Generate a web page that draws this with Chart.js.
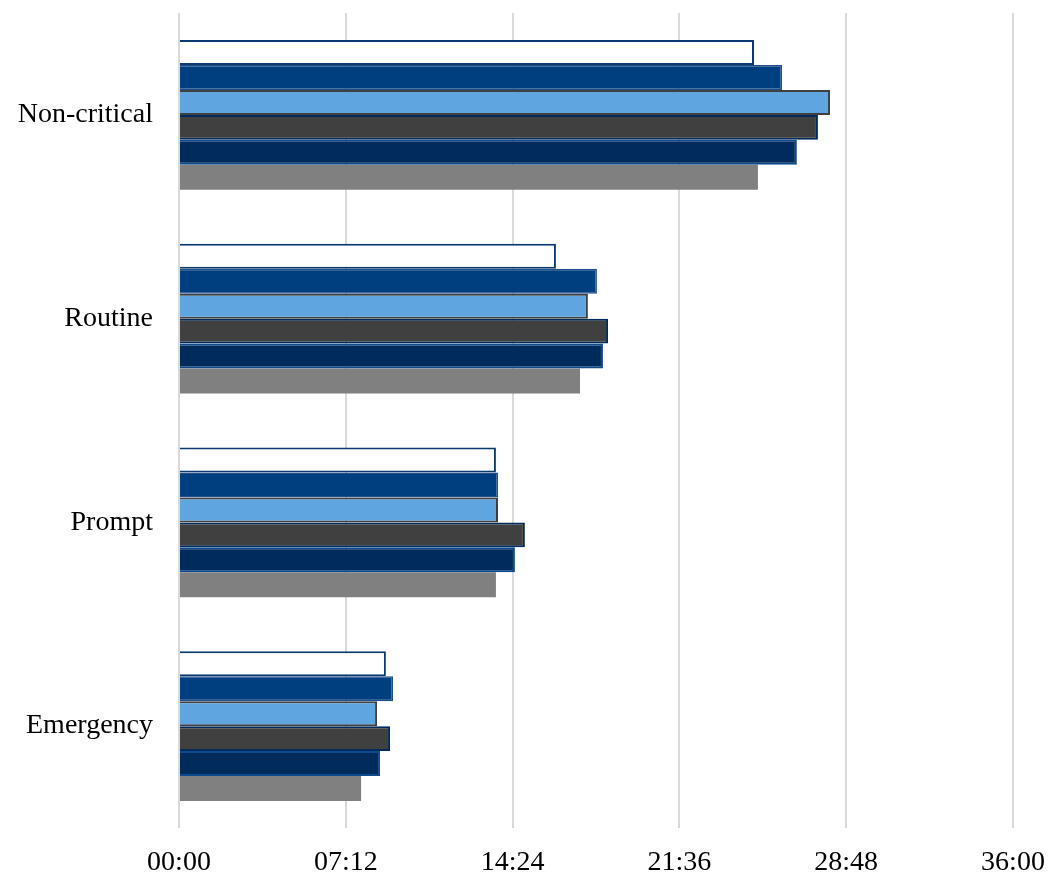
<!DOCTYPE html>
<html>
<head>
<meta charset="utf-8">
<script src="https://cdn.jsdelivr.net/npm/chart.js@4"></script>
<style>
  html, body { margin: 0; padding: 0; background: #ffffff; }
  #wrap { width: 1051px; height: 878px; }
</style>
</head>
<body>
<div id="wrap"><canvas id="barChart" width="1051" height="878"></canvas></div>
<script>
// response times in minutes
var categories = ["Non-critical", "Routine", "Prompt", "Emergency"];
var seriesNames = ["Series 1", "Series 2", "Series 3", "Series 4", "Series 5", "Series 6"];
var series1 = [24.82, 16.27, 13.68, 8.93];
var series2 = [26.03, 18.04, 13.77, 9.24];
var series3 = [28.10, 17.65, 13.77, 8.55];
var series4 = [27.58, 18.52, 14.93, 9.11];
var series5 = [26.67, 18.30, 14.50, 8.68];
var series6 = [24.99, 17.31, 13.68, 7.86];
var xTicks = [0, 7.2, 14.4, 21.6, 28.8, 36];

var fills = ['#ffffff', '#003F7F', '#5FA5E0', '#404040', '#002B5A', '#808080'];
var borders = ['#0B3B6E', '#1F4E8C', '#404040', '#002B5C', '#0B4A8C', '#808080'];
var borderWidths = [2, 1.5, 2, 2, 2, 0];

function mmss(v) {
    var secs = Math.round(v * 60);
    var m = Math.floor(secs / 60);
    var s = secs % 60;
    return (m < 10 ? '0' : '') + m + ':' + (s < 10 ? '0' : '') + s;
}

var allSeries = [series1, series2, series3, series4, series5, series6];
var datasets = allSeries.map(function (vals, i) {
    return {
        label: seriesNames[i],
        data: vals,
        backgroundColor: fills[i],
        borderColor: borders[i],
        borderWidth: borderWidths[i],
        borderSkipped: 'start',
        categoryPercentage: 0.736,
        barPercentage: 1.0
    };
});

var ctx = document.getElementById('barChart').getContext('2d');
var myBarChart = new Chart(ctx, {
    type: 'bar',
    data: {
        labels: categories,
        datasets: datasets
    },
    options: {
        indexAxis: 'y',
        responsive: false,
        maintainAspectRatio: false,
        animation: false,
        layout: { padding: { left: 0, right: 38, top: 13, bottom: 0 } },
        plugins: {
            legend: { display: false },
            tooltip: { enabled: false }
        },
        scales: {
            x: {
                min: 0,
                max: 36,
                afterBuildTicks: function (axis) {
                    axis.ticks = xTicks.map(function (v) { return { value: v }; });
                },
                afterFit: function (axis) {
                    // fixed label row under the plot
                    axis.height = 50;
                    axis.paddingLeft = 0;
                    axis.paddingRight = 0;
                },
                grid: { color: '#D9D9D9', lineWidth: 2, drawTicks: false },
                border: { display: false },
                ticks: {
                    color: '#000000',
                    padding: 19,
                    maxRotation: 0,
                    font: { family: 'Liberation Serif', size: 28, lineHeight: 1.1 },
                    callback: function (v) { return mmss(v); }
                }
            },
            y: {
                grid: { display: false, drawTicks: false },
                border: { display: false },
                afterFit: function (axis) {
                    // fixed label column, no extra top/bottom padding
                    axis.width = 179;
                    axis.paddingTop = 0;
                    axis.paddingBottom = 0;
                },
                ticks: {
                    color: '#000000',
                    padding: 26,
                    font: { family: 'Liberation Serif', size: 28 }
                }
            }
        }
    }
});
</script>
</body>
</html>
